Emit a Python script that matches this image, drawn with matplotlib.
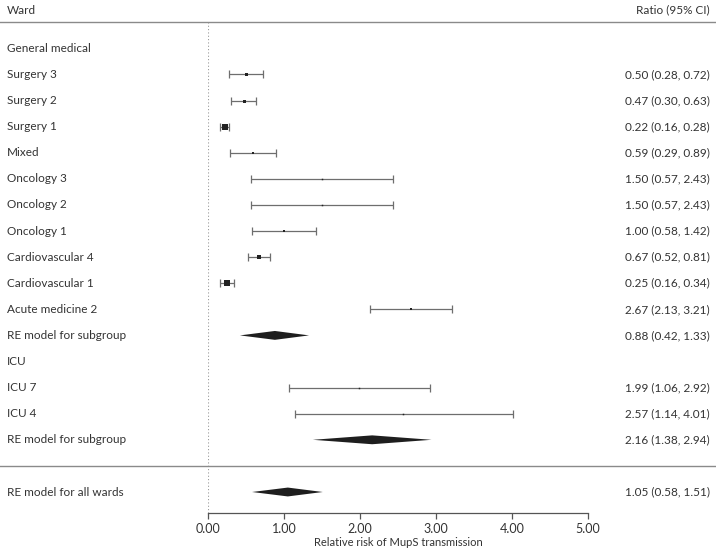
import matplotlib
matplotlib.use("Agg")
import matplotlib.pyplot as plt
import matplotlib.transforms as mtransforms
from matplotlib.patches import Polygon

plt.rcParams['font.family'] = ['Lato', 'DejaVu Sans']

# ---- data ----
labels = ["General medical", "Surgery 3", "Surgery 2", "Surgery 1", "Mixed",
          "Oncology 3", "Oncology 2", "Oncology 1", "Cardiovascular 4",
          "Cardiovascular 1", "Acute medicine 2", "RE model for subgroup",
          "ICU", "ICU 7", "ICU 4", "RE model for subgroup", None,
          "RE model for all wards"]
kinds = ["head", "study", "study", "study", "study", "study", "study", "study",
         "study", "study", "study", "summary", "head", "study", "study",
         "summary", "blank", "summary"]
est = [None, 0.50, 0.47, 0.22, 0.59, 1.50, 1.50, 1.00, 0.67, 0.25, 2.67, 0.88,
       None, 1.99, 2.57, 2.16, None, 1.05]
lo = [None, 0.28, 0.30, 0.16, 0.29, 0.57, 0.57, 0.58, 0.52, 0.16, 2.13, 0.42,
      None, 1.06, 1.14, 1.38, None, 0.58]
hi = [None, 0.72, 0.63, 0.28, 0.89, 2.43, 2.43, 1.42, 0.81, 0.34, 3.21, 1.33,
      None, 2.92, 4.01, 2.94, None, 1.51]
# study weights (relative box size)
weights = [None, 3.0, 3.0, 6.5, 2.5, 1.5, 1.5, 2.0, 4.0, 5.5, 2.0, None,
           None, 1.5, 1.5, None, None, None]
xticks = [0, 1, 2, 3, 4, 5]
xticklabels = ["0.00", "1.00", "2.00", "3.00", "4.00", "5.00"]

# ---- layout ----
W, H = 716, 550
fig = plt.figure(figsize=(W / 100, H / 100), dpi=100)
row0_px, row_h = 48.3, 26.1
top_px, bot_px = 22.0, 513.0
left_px, right_px = 208.0, 588.0
ax = fig.add_axes([left_px / W, (H - bot_px) / H,
                   (right_px - left_px) / W, (bot_px - top_px) / H])
ax.set_xlim(0, 5)
ax.set_ylim((bot_px - row0_px) / row_h, (top_px - row0_px) / row_h)

txt = "#333333"
line_c = "#6e6e6e"
blend = mtransforms.blended_transform_factory(fig.transFigure, ax.transData)

for s in ["top", "right", "left"]:
    ax.spines[s].set_visible(False)
ax.spines["bottom"].set_color("#555555")
ax.spines["bottom"].set_linewidth(0.9)
ax.set_yticks([])
ax.set_xticks(xticks)
ax.set_xticklabels(xticklabels, fontsize=9, color=txt)
ax.tick_params(axis="x", colors="#555555", labelcolor=txt, length=4, width=0.9,
               pad=3)
ax.set_xlabel("Relative risk of MupS transmission", fontsize=8, color=txt,
              labelpad=2)

# null line
ax.axvline(0, color="#999999", lw=0.8, ls=(0, (1, 2)), zorder=1)

# header
yh = (10 - row0_px) / row_h
ax.text(7 / W, yh, "Ward", transform=blend, fontsize=8.5, color=txt,
        va="center", ha="left", clip_on=False)
ax.text(710 / W, yh, "Ratio (95% CI)", transform=blend, fontsize=8.5,
        color=txt, va="center", ha="right", clip_on=False)

# separator lines
for ypx in [top_px, 466.0]:
    yv = (ypx - row0_px) / row_h
    ax.plot([0, 1], [yv, yv], transform=blend, color="#8a8a8a", lw=1.0,
            clip_on=False, zorder=2)

for i, (lab, k) in enumerate(zip(labels, kinds)):
    if lab is not None:
        ax.text(7 / W, i, lab, transform=blend, fontsize=8.5, color=txt,
                va="center", ha="left", clip_on=False)
    if k == "study":
        ax.errorbar([est[i]], [i], xerr=[[est[i] - lo[i]], [hi[i] - est[i]]],
                    fmt="none", ecolor=line_c, elinewidth=0.9, capsize=2.6,
                    capthick=0.9, zorder=3)
        ax.plot([est[i]], [i], marker="s", color="#222222",
                markersize=weights[i] * 0.72, mew=0, zorder=4)
    if k == "summary":
        hh = 0.17
        ax.add_patch(Polygon([[lo[i], i], [est[i], i - hh], [hi[i], i],
                              [est[i], i + hh]], closed=True,
                             facecolor="#1e1e1e", edgecolor="none", zorder=4))
    if est[i] is not None:
        ax.text(710 / W, i, f"{est[i]:.2f} ({lo[i]:.2f}, {hi[i]:.2f})",
                transform=blend, fontsize=8.5, color=txt, va="center",
                ha="right", clip_on=False)

fig.savefig("out.png", dpi=100)
